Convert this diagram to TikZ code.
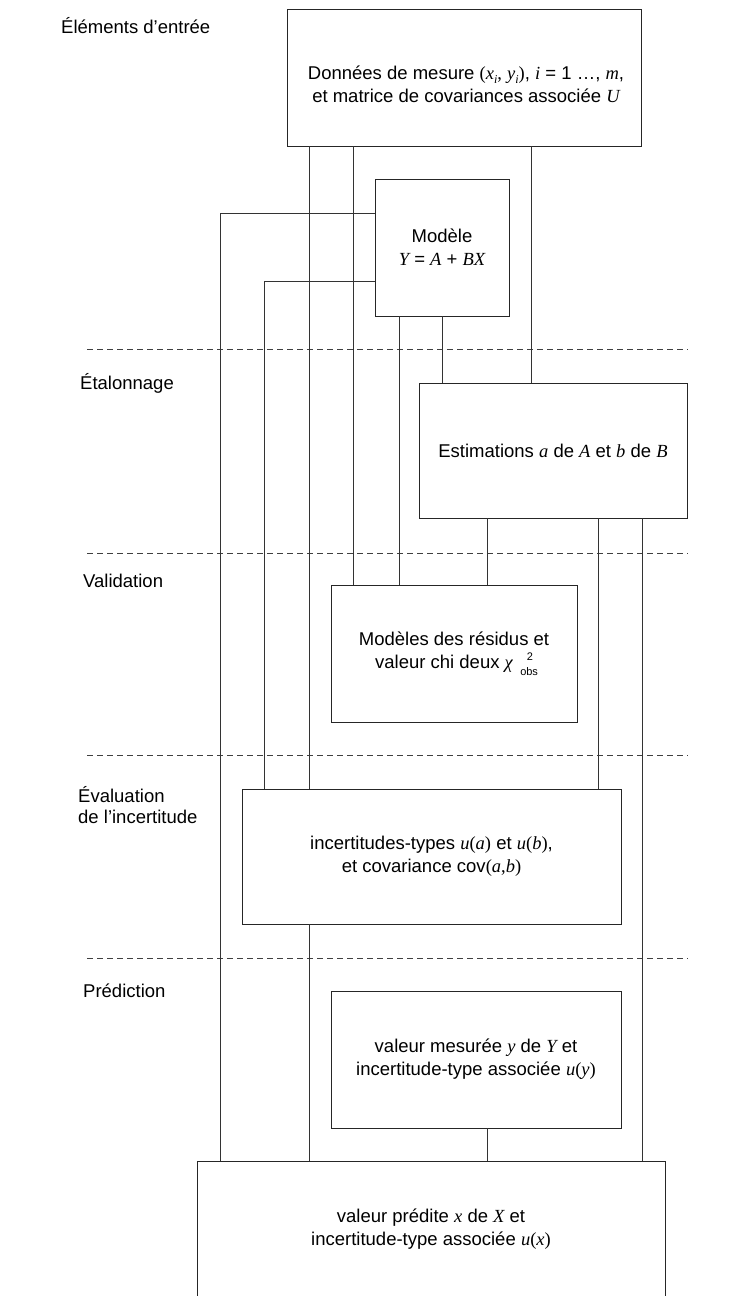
\documentclass[tikz,border=0pt]{standalone}
\usepackage{fontspec}
\setmainfont{Liberation Sans}
\newfontfamily\tim{Liberation Serif}
\newcommand\vi[1]{{\tim\itshape #1}}
\newcommand\tm[1]{{\tim #1}}
\newcommand\sbi[1]{\raisebox{-0.22em}{\fontsize{12}{12}\selectfont\tim\itshape #1}}
\begin{document}
\begin{tikzpicture}[x=1pt,y=-1pt,
  every node/.style={font=\fontsize{18.5}{23}\selectfont, text=black},
  boxnode/.style={draw=black!85, line width=1pt, fill=white, inner sep=0pt, outer sep=0pt, align=center},
  conn/.style={draw=black!80, line width=0.9pt},
  sep/.style={draw=black!75, line width=0.9pt, dash pattern=on 6pt off 4pt},
  lab/.style={anchor=base west, inner sep=0pt}]
\useasboundingbox (0,0) rectangle (736,1296);
\fill[white] (0,0) rectangle (736,1296);

% dashed separators
\draw[sep] (87,349) -- (688,349);
\draw[sep] (87,553) -- (688,553);
\draw[sep] (87,755) -- (688,755);
\draw[sep] (87,958) -- (688,958);

% section labels
\node[lab] (l1) at (61,33) {Éléments d’entrée};
\node[lab] (l2) at (80,389) {Étalonnage};
\node[lab] (l3) at (83,587) {Validation};
\node[lab] (l4a) at (78,802) {Évaluation};
\node[lab] (l4b) at (78,823) {de l’incertitude};
\node[lab] (l5) at (83,997) {Prédiction};

% boxes
\node[boxnode, minimum width=354pt, minimum height=137pt] (don) at (464,77.5) {};
\node[inner sep=0pt, align=center] (dontxt) at (466,84)
  {Données de mesure \tm{(}\vi{x}\sbi{i}\tm{,} \vi{y}\sbi{i}\tm{)}, \vi{i} = 1 …, \vi{m},\\
   et matrice de covariances associée \vi{U}};
\node[boxnode, minimum width=134pt, minimum height=137pt] (mod) at (442,247.5)
  {Modèle\\ \vi{Y} = \vi{A} + \vi{BX}};
\node[boxnode, minimum width=268pt, minimum height=135pt] (est) at (553,450.5)
  {Estimations \vi{a} de \vi{A} et \vi{b} de \vi{B}};
\node[boxnode, minimum width=246pt, minimum height=137pt] (val) at (454,653.5)
  {Modèles des résidus et\\
   \ valeur chi deux \vi{χ}\hspace{0.4em}\raisebox{-0.4em}{\fontsize{11}{11}\selectfont\makebox[0pt][l]{\hspace{0.6em}\raisebox{1.35em}{2}}obs}};
\node[boxnode, minimum width=379pt, minimum height=135pt] (unc) at (431.5,856.5)
  {incertitudes-types \vi{u}\tm{(}\vi{a}\tm{)} et \vi{u}\tm{(}\vi{b}\tm{)},\\
   et covariance cov\tm{(}\vi{a}\tm{,}\vi{b}\tm{)}};
\node[boxnode, minimum width=290pt, minimum height=137pt] (pre) at (476,1059.5)
  {valeur mesurée \vi{y} de \vi{Y} et\\
   incertitude-type associée \vi{u}\tm{(}\vi{y}\tm{)}};
\node[boxnode, minimum width=468pt, minimum height=137pt] (fin) at (431,1229.5)
  {valeur prédite \vi{x} de \vi{X} et\\
   incertitude-type associée \vi{u}\tm{(}\vi{x}\tm{)}};

% connectors
\draw[conn] (don.south -| 309,0) -- (unc.north -| 309,0);
\draw[conn] (unc.south -| 309,0) -- (fin.north -| 309,0);
\draw[conn] (don.south -| 353,0) -- (val.north -| 353,0);
\draw[conn] (don.south -| 531,0) -- (est.north -| 531,0);
\draw[conn] (mod.west |- 0,213) -- (220,213) -- (fin.north -| 220,0);
\draw[conn] (mod.west |- 0,281) -- (264,281) -- (unc.north -| 264,0);
\draw[conn] (mod.south -| 399,0) -- (val.north -| 399,0);
\draw[conn] (mod.south -| 442,0) -- (est.north -| 442,0);
\draw[conn] (est.south -| 487,0) -- (val.north -| 487,0);
\draw[conn] (est.south -| 598,0) -- (unc.north -| 598,0);
\draw[conn] (est.south -| 642,0) -- (fin.north -| 642,0);
\draw[conn] (pre.south -| 487,0) -- (fin.north -| 487,0);
\end{tikzpicture}
\end{document}
